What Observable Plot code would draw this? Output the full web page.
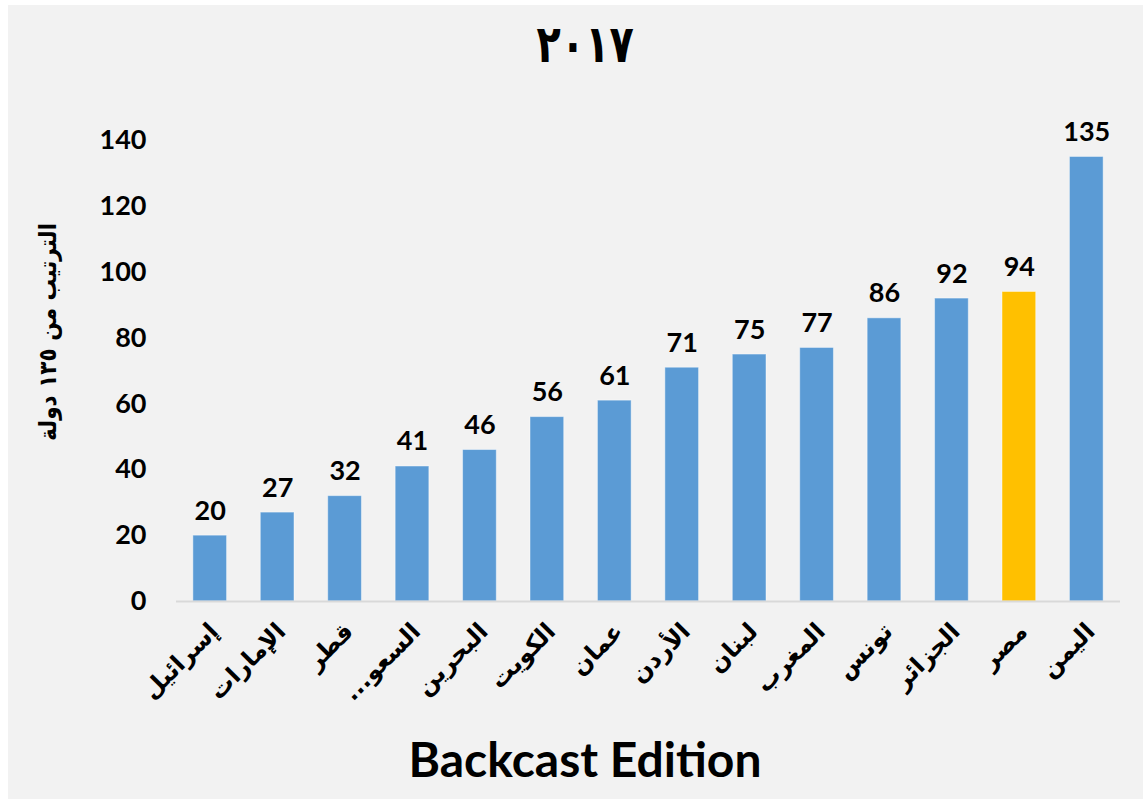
<!DOCTYPE html>
<html>
<head>
<meta charset="utf-8">
<script src="https://cdn.jsdelivr.net/npm/d3@7"></script>
<script src="https://cdn.jsdelivr.net/npm/@observablehq/plot@0.6"></script>
<style>
  html, body { margin: 0; padding: 0; background: #ffffff; }
  #panel { position: absolute; left: 8px; top: 5px; width: 1135px; height: 794px; background: #f2f2f2; }
  #title { position: absolute; left: 0; top: 14px; width: 1170px; text-align: center; font-family: "DejaVu Sans Condensed", "DejaVu Sans", sans-serif; font-weight: bold; font-size: 52px; color: #000; }
  #title span { display: inline-block; transform: scaleX(0.85); }
  #chart { position: absolute; left: 0; top: 0; }
  #ylabel { position: absolute; left: 48px; top: 332px; transform: translate(-50%, -50%) rotate(-90deg); white-space: nowrap; direction: rtl; font-family: "DejaVu Sans Condensed", "DejaVu Sans", sans-serif; font-weight: bold; font-size: 24px; color: #000; }
  #caption { position: absolute; left: 0; top: 730px; width: 1170px; text-align: center; font-family: Lato, "Open Sans", sans-serif; font-weight: bold; font-size: 48px; color: #000; }
</style>
</head>
<body>
<div id="panel"></div>
<div id="chart"></div>
<div id="title"><span></span></div>
<div id="ylabel"></div>
<div id="caption"></div>
<script>
const titleText = "٢٠١٧";
const yLabel = "الترتيب من ١٣٥ دولة";
const captionText = "Backcast Edition";
const countries = ["إسرائيل", "الإمارات", "قطر", "السعو...\u200F", "البحرين", "الكويت", "عمان", "الأردن", "لبنان", "المغرب", "تونس", "الجزائر", "مصر", "اليمن"];
const ranks = [20, 27, 32, 41, 46, 56, 61, 71, 75, 77, 86, 92, 94, 135];
const highlight = "مصر";
const yTicks = [0, 20, 40, 60, 80, 100, 120, 140];

document.querySelector("#title span").textContent = titleText;
document.getElementById("ylabel").textContent = yLabel;
document.getElementById("caption").textContent = captionText;

const data = countries.map((c, i) => ({country: c, rank: ranks[i], hi: c === highlight}));

const chart = Plot.plot({
  width: 1143,
  height: 720,
  marginTop: 140,
  marginBottom: 119,
  marginLeft: 176,
  marginRight: 23,
  style: {background: "transparent", color: "#000"},
  x: {domain: countries, paddingInner: 0.5, paddingOuter: 0.25, round: false, label: null},
  y: {domain: [0, 140], label: null},
  marks: [
    Plot.barY(data, {x: "country", y: "rank", fill: d => d.hi ? "#ffc000" : "#5b9bd5", stroke: "#ffffff", strokeOpacity: 0.45, strokeWidth: 1}),
    Plot.ruleY([0], {stroke: "#d9d9d9", strokeWidth: 2}),
    Plot.text(data, {x: "country", y: "rank", text: d => String(d.rank), dy: -16, lineAnchor: "bottom", fontSize: 27, fontWeight: "bold", fontFamily: "Lato, 'Open Sans', sans-serif"}),
    Plot.axisY({ticks: yTicks, tickSize: 0, tickPadding: 30, fontSize: 27, fontWeight: "bold", fontFamily: "Lato, 'Open Sans', sans-serif", label: null}),
    Plot.axisX({tickRotate: -45, tickSize: 0, tickPadding: 26, dx: 4, fontSize: 24, fontWeight: "bold", fontFamily: "'DejaVu Sans', sans-serif", label: null})
  ]
});
document.getElementById("chart").appendChild(chart);
</script>
</body>
</html>
